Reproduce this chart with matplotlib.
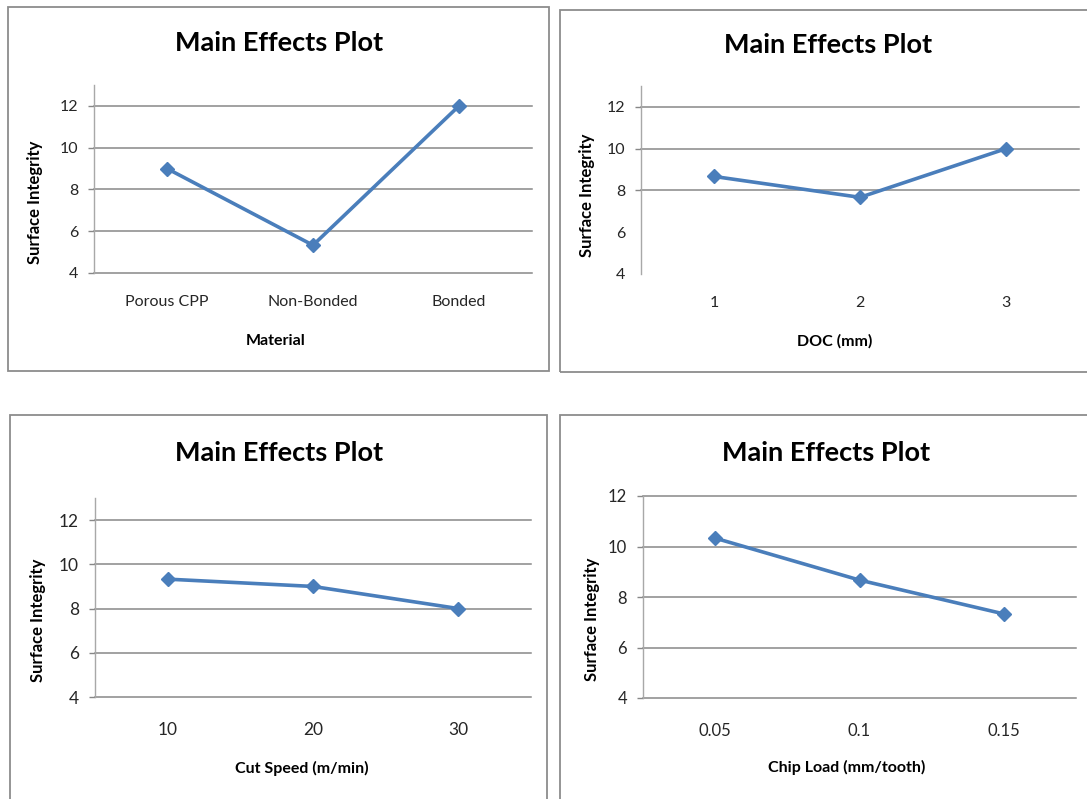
import matplotlib.pyplot as plt
from matplotlib.patches import Rectangle

plt.rcParams['font.family'] = ['Lato', 'DejaVu Sans']

# main effect means for each factor level
materials = ['Porous CPP', 'Non-Bonded', 'Bonded']
material_si = [9.0, 5.33, 12.0]

doc_levels = ['1', '2', '3']
doc_si = [8.67, 7.67, 10.0]

speed_levels = ['10', '20', '30']
speed_si = [9.33, 9.0, 8.0]

chip_levels = ['0.05', '0.1', '0.15']
chip_si = [10.33, 8.67, 7.33]

y_ticks = [4, 6, 8, 10, 12]

W, H = 1087, 799
fig = plt.figure(figsize=(W / 100, H / 100), dpi=100)

BLUE = '#4a7ebb'
GRID = '#878787'


def fx(x):
    return x / W


def fy(y):
    return 1 - y / H


def box(x0, y0, x1, y1):
    fig.patches.append(Rectangle((fx(x0), fy(y1)), fx(x1 - x0), (y1 - y0) / H,
                                 transform=fig.transFigure, fill=False,
                                 edgecolor='#8c8c8c', linewidth=1.3))


def panel(rect, levels, values, ymax, xlabel, title_xy, xlabel_xy, ylabel_xy,
          grid_levels=y_ticks, fs=11.5, pad=16):
    x0, y0, x1, y1 = rect
    ax = fig.add_axes([fx(x0), fy(y1), fx(x1 - x0), (y1 - y0) / H])
    ax.plot(levels, values, color=BLUE, linewidth=2.6, marker='D',
            markersize=7, zorder=3)
    ax.set_xlim(-0.5, 2.5)
    ax.set_ylim(4, ymax)
    ax.set_yticks(y_ticks)
    for g in grid_levels:
        ax.axhline(g, color=GRID, linewidth=1.1, zorder=1, clip_on=False)
    for s in ['top', 'right', 'bottom']:
        ax.spines[s].set_visible(False)
    ax.spines['left'].set_color('#a8a8a8')
    ax.spines['left'].set_linewidth(1)
    ax.tick_params(axis='y', length=4.5, width=1, color=GRID, pad=7,
                   labelsize=fs, labelcolor='#262626')
    ax.tick_params(axis='x', length=0, pad=pad, labelsize=fs,
                   labelcolor='#262626')
    for t, v in zip(ax.yaxis.get_major_ticks(), y_ticks):
        if v not in grid_levels:
            t.tick1line.set_visible(False)
    ax.patch.set_alpha(0)

    fig.text(fx(title_xy[0]), fy(title_xy[1]), 'Main Effects Plot',
             ha='center', va='center', fontsize=19.5, fontweight='bold')
    fig.text(fx(xlabel_xy[0]), fy(xlabel_xy[1]), xlabel, ha='center',
             va='center', fontsize=11.5, fontweight='bold')
    fig.text(fx(ylabel_xy[0]), fy(ylabel_xy[1]), 'Surface Integrity',
             ha='center', va='center', fontsize=12, fontweight='bold',
             rotation=90)
    return ax


# panel frames
box(8, 7, 549, 371)
box(560, 10, 1100, 372)
box(10, 415, 547, 812)
box(560, 415, 1100, 812)

panel((94, 85, 532, 273), materials, material_si, 13, 'Material',
      (279, 43), (276, 341), (35, 202))
panel((641, 86, 1079, 274), doc_levels, doc_si, 13, 'DOC (mm)',
      (828, 45), (835, 341), (587, 195), grid_levels=[8, 10, 12])
panel((95, 498, 531, 697), speed_levels, speed_si, 13, 'Cut Speed (m/min)',
      (279, 453), (302, 768), (38, 620), fs=12.5, pad=18)
panel((643, 496, 1076, 698), chip_levels, chip_si, 12, 'Chip Load (mm/tooth)',
      (826, 453), (847, 767), (592, 619), fs=12, pad=18)

fig.savefig('out.png', dpi=100)
